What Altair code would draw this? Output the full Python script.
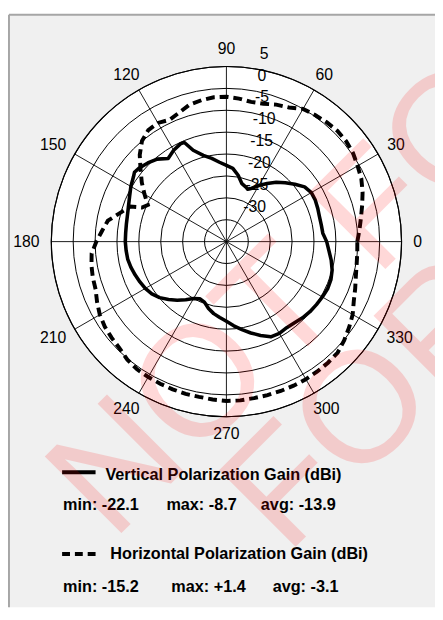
import altair as alt
import pandas as pd
import numpy as np

# ---------------- data ----------------
v_angle = [0, 5, 10, 15, 20, 25, 30, 35, 40, 45, 50, 55, 60, 65, 68, 70, 75, 80, 85, 90,
           95, 100, 105, 110, 113, 115, 120, 125, 130, 135, 140, 143, 145, 150, 155, 160,
           165, 170, 175, 180, 185, 190, 195, 200, 205, 210, 215, 220, 225, 230, 235, 240,
           245, 250, 255, 260, 265, 270, 275, 280, 285, 290, 295, 300, 305, 310, 315, 320,
           325, 330, 335, 340, 345, 350, 355]
v_gain = [-12.1, -12.9, -13.0, -13.0, -12.8, -12.6, -12.6, -13.2, -14.6, -16.0, -17.3, -18.8,
          -20.2, -21.6, -22.1, -21.8, -21.3, -19.6, -18.2, -17.6, -16.8, -15.7, -14.6, -12.8,
          -10.4, -10.3, -10.9, -11.8, -10.4, -9.6, -8.9, -8.7, -9.1, -9.8, -10.6, -11.2,
          -11.6, -11.8, -11.9, -11.9, -12.0, -12.1, -12.4, -12.8, -13.2, -13.6, -14.2, -15.1,
          -16.3, -17.5, -18.8, -20.0, -20.6, -20.3, -19.2, -18.3, -17.6, -16.8, -15.7, -14.6,
          -13.4, -12.2, -11.0, -10.8, -11.0, -10.8, -10.4, -10.1, -9.9, -9.7, -9.5, -9.6,
          -10.0, -10.7, -11.5]

h_angle = [0, 5, 10, 15, 20, 25, 30, 35, 40, 45, 50, 55, 60, 65, 70, 75, 80, 85, 90, 95,
           100, 105, 110, 115, 120, 125, 130, 135, 140, 145, 150, 155, 158, 160, 165, 170,
           175, 180, 185, 190, 195, 200, 205, 210, 215, 220, 225, 230, 235, 240, 245, 250,
           255, 260, 265, 270, 275, 280, 285, 290, 295, 300, 305, 310, 315, 320, 325, 330,
           335, 340, 345, 350, 355]
h_gain = [-5.1, -4.5, -3.8, -2.9, -1.9, -1.0, -0.4, 0.3, 0.7, 0.8, 0.6, 0.3, 0.0, -1.2,
          -1.7, -2.4, -2.6, -2.2, -1.9, -1.9, -2.2, -2.6, -3.6, -4.3, -3.7, -3.9, -5.0, -7.0,
          -9.4, -11.4, -13.4, -15.2, -14.2, -11.6, -9.8, -7.5, -6.5, -5.3, -4.1, -3.7, -3.4,
          -3.2, -2.4, -1.6, -1.1, -0.8, -0.5, 0.2, 0.6, 0.7, 0.8, 0.9, 1.0, 1.0, 1.2, 1.4,
          1.4, 1.3, 1.3, 1.3, 1.3, 1.3, 1.2, 1.1, 0.9, 0.1, -0.8, -1.7, -2.9, -3.7, -4.4,
          -4.8, -5.0]

ring_db = [5, 0, -5, -10, -15, -20, -25, -30]
spoke_deg = [0, 30, 60, 90, 120, 150, 180, 210, 240, 270, 300, 330]

v_name = "Vertical Polarization Gain (dBi)"
h_name = "Horizontal Polarization Gain (dBi)"
v_stats = [("min", -22.1), ("max", -8.7), ("avg", -13.9)]
h_stats = [("min", -15.2), ("max", 1.4), ("avg", -3.1)]

watermark_words = ["NOT FOR", "FOR"]

# ---------------- layout constants ----------------
K = 4.45          # pixels per dB
OFF = 35          # centre of the plot in dB
OUTER = 5         # outer ring in dB
W, H = 433, 602
CX, CY = 221, 230.5   # centre of the polar plot inside the view
FONT = "Liberation Sans"


def closed(angles, gains):
    a = list(angles) + [angles[0] + 360]
    g = list(gains) + [gains[0]]
    return pd.DataFrame({"angle": a, "gain": g, "seq": range(len(a))})


v_df = closed(v_angle, v_gain)
h_df = closed(h_angle, h_gain)
ring_df = pd.DataFrame({"db": ring_db})
spoke_df = pd.DataFrame({"deg": spoke_deg})
label_df = pd.DataFrame({"deg": spoke_deg, "txt": [str(d) for d in spoke_deg]})
disk_df = pd.DataFrame({"db": [OUTER]})

xs = alt.Scale(domain=[-CX / K, (W - CX) / K], nice=False, zero=False)
ys = alt.Scale(domain=[-(H - CY) / K, CY / K], nice=False, zero=False)


def X(f):
    return alt.X(f, type="quantitative", scale=xs, axis=None)


def Y(f):
    return alt.Y(f, type="quantitative", scale=ys, axis=None)


polar_calc = dict(
    px=f"(datum.gain + {OFF}) * cos(datum.angle * PI / 180)",
    py=f"(datum.gain + {OFF}) * sin(datum.angle * PI / 180)",
)

size_expr = f"pow(2 * (datum.db + {OFF}) * {K}, 2)"

# frame (left and top edges only; the panel runs off the picture on the right/bottom)
frame_df = pd.DataFrame({"edge": ["left", "top"]})
frame_left = alt.Chart(frame_df.iloc[[0]]).mark_rule(color="#a6a6a6", strokeWidth=2).encode(
    x=alt.value(0), y=alt.value(0), y2=alt.value(H)
)
frame_top = alt.Chart(frame_df.iloc[[1]]).mark_rule(color="#a6a6a6", strokeWidth=2).encode(
    x=alt.value(0), x2=alt.value(W), y=alt.value(0)
)

disk = alt.Chart(disk_df).mark_point(
    shape="circle", filled=True, fill="white", stroke="black", strokeWidth=1.2, opacity=1
).transform_calculate(s=size_expr, zx="0", zy="0").encode(
    x=X("zx"), y=Y("zy"), size=alt.Size("s:Q", scale=None)
)

rings = alt.Chart(ring_df).mark_point(
    shape="circle", filled=False, stroke="black", strokeWidth=1, opacity=1
).transform_calculate(s=size_expr, zx="0", zy="0").encode(
    x=X("zx"), y=Y("zy"), size=alt.Size("s:Q", scale=None)
)

spokes = alt.Chart(spoke_df).mark_rule(color="black", strokeWidth=0.9).transform_calculate(
    zx="0", zy="0",
    ex=f"{OUTER + OFF} * cos(datum.deg * PI / 180)",
    ey=f"{OUTER + OFF} * sin(datum.deg * PI / 180)",
).encode(x=X("zx"), y=Y("zy"), x2="ex:Q", y2="ey:Q")

h_line = alt.Chart(h_df).mark_line(
    color="black", strokeWidth=4, strokeDash=[9, 5], strokeCap="butt"
).transform_calculate(**polar_calc).encode(
    x=X("px"), y=Y("py"), order=alt.Order("seq:Q")
)

v_line = alt.Chart(v_df).mark_line(
    color="black", strokeWidth=3.6, strokeJoin="round"
).transform_calculate(**polar_calc).encode(
    x=X("px"), y=Y("py"), order=alt.Order("seq:Q")
)

ring_labels = alt.Chart(ring_df).mark_text(
    font=FONT, fontSize=16, color="black", align="left", baseline="middle"
).transform_calculate(
    lx=f"(14.6 + 0.109 * (datum.db + {OFF}) * {K}) / {K}",
    ly=f"((datum.db + {OFF}) * {K} + 13) / {K}",
    t="'' + datum.db",
).encode(x=X("lx"), y=Y("ly"), text="t:N")

angle_labels = alt.Chart(label_df).mark_text(
    font=FONT, fontSize=16, color="black", align="center", baseline="middle"
).transform_calculate(
    lx=f"(190 + 4.45 * length(datum.txt)) * cos(datum.deg * PI / 180) / {K}",
    ly=f"196 * sin(datum.deg * PI / 180) / {K}",
).encode(x=X("lx"), y=Y("ly"), text="txt:N")

# ---------------- legend ----------------
def fmt(v):
    return f"+{v}" if v > 0 else f"{v}"


leg_title_df = pd.DataFrame({"t": [v_name, h_name], "x": [107, 112], "y": [483, 563]})
stat_rows = []
for (lab, val), xx in zip(v_stats, [64, 169, 265]):
    stat_rows.append({"t": f"{lab}: {fmt(val)}", "x": xx, "y": 513})
for (lab, val), xx in zip(h_stats, [64, 174, 277]):
    stat_rows.append({"t": f"{lab}: {fmt(val)}", "x": xx, "y": 597})
leg_df = pd.concat([leg_title_df, pd.DataFrame(stat_rows)], ignore_index=True)
leg_df["x"] = leg_df["x"] - 9
leg_df["y"] = leg_df["y"] - 10

leg_text = alt.Chart(leg_df).mark_text(
    font=FONT, fontSize=16.5, fontWeight="bold", color="black", align="left",
    baseline="alphabetic"
).encode(
    x=alt.X("x:Q", scale=None, axis=None), y=alt.Y("y:Q", scale=None, axis=None), text="t:N"
)

v_sample = alt.Chart(pd.DataFrame({"name": [v_name]})).mark_rule(
    color="black", strokeWidth=4
).encode(x=alt.value(63 - 9), x2=alt.value(97 - 9), y=alt.value(475 - 10))
h_sample = alt.Chart(pd.DataFrame({"name": [h_name]})).mark_rule(
    color="black", strokeWidth=4, strokeDash=[8, 5]
).encode(x=alt.value(63 - 9), x2=alt.value(98 - 9), y=alt.value(558 - 10))

# ---------------- watermark ----------------
wm1 = alt.Chart(pd.DataFrame({"t": [watermark_words[0]]})).mark_text(
    font=FONT, fontSize=160, color="#ff0000", opacity=0.15, angle=315,
    align="left", baseline="alphabetic"
).encode(x=alt.value(105), y=alt.value(536), text="t:N")
wm2 = alt.Chart(pd.DataFrame({"t": [watermark_words[1]]})).mark_text(
    font=FONT, fontSize=160, color="#ff0000", opacity=0.15, angle=315,
    align="left", baseline="alphabetic"
).encode(x=alt.value(282), y=alt.value(550), text="t:N")

chart = alt.layer(
    frame_left, frame_top, disk, rings, spokes, h_line, v_line, ring_labels, angle_labels,
    v_sample, h_sample, leg_text, wm1, wm2
).properties(
    width=W, height=H,
    autosize=alt.AutoSizeParams(type="none"),
    padding={"left": 1, "top": 2, "right": 0, "bottom": 0},
    background="white",
).configure_view(fill="#f0f0f0", strokeWidth=0)

chart.save("out.html", embed_options={"renderer": "svg", "actions": False})
